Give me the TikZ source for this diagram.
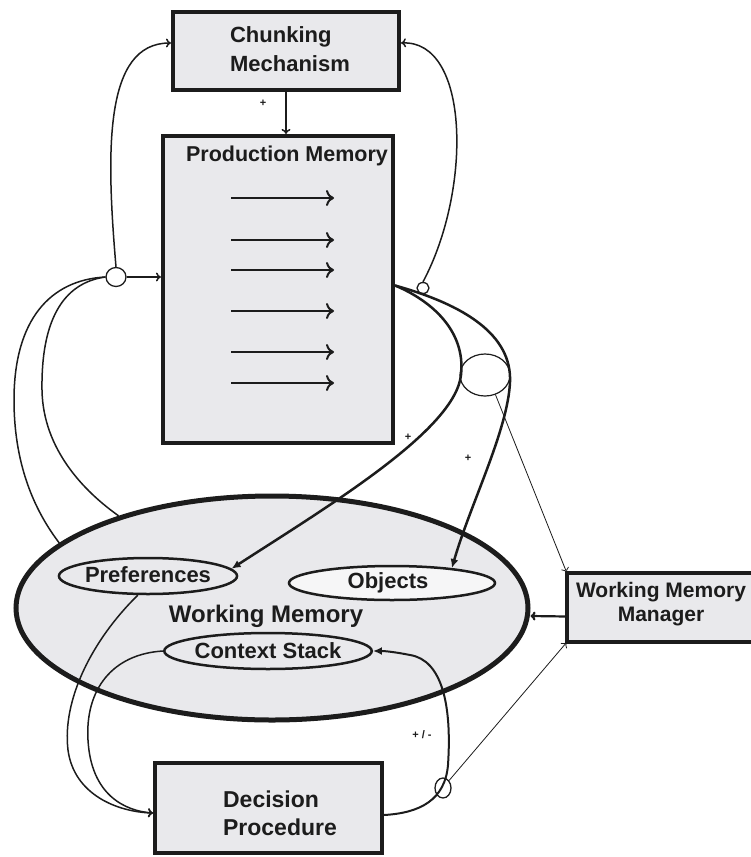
\documentclass[tikz,border=0pt]{standalone}
\usepackage{fontspec}
\setmainfont{Liberation Sans}
\usetikzlibrary{arrows.meta,shapes.geometric}
\definecolor{panel}{HTML}{E9E9EC}
\definecolor{ink}{HTML}{1C1C1C}

\begin{document}
\begin{tikzpicture}[x=1pt,y=-1pt,
  box/.style={draw=ink, line width=4pt, fill=panel, inner sep=0pt},
  lbl/.style={text=ink, inner sep=0pt, font=\bfseries\fontsize{22pt}{29pt}\selectfont},
  oval/.style={draw=ink, ellipse, line width=2.5pt, fill=panel, inner sep=0pt, text=ink,
               font=\bfseries\fontsize{22pt}{26pt}\selectfont},
  tap/.style={draw=ink, ellipse, line width=1.3pt, fill=white, inner sep=0pt},
  conn/.style={draw=ink, line width=1.5pt, -{To[length=5pt,width=9pt]}},
  thinconn/.style={draw=ink, line width=0.8pt, -{To[length=5pt,width=8pt]}},
  heavy/.style={draw=ink, line width=2.5pt, -{Latex[length=9pt,width=8pt]}},
  plain/.style={draw=ink, line width=1.5pt},
  sign/.style={text=ink, inner sep=0pt, font=\bfseries\fontsize{11pt}{11pt}\selectfont},
  rulearrow/.style={draw=ink, line width=2pt, -{To[length=8pt,width=16pt]}}
]
\useasboundingbox (0,0) rectangle (751,857);

% --- boxes -------------------------------------------------------------
\node[box, minimum width=226, minimum height=78] (chunk) at (286,51) {};
\node[lbl, align=left] (chunktext) at (290,49.5) {Chunking\\Mechanism};

\node[box, minimum width=230, minimum height=307] (prod) at (278,289.5) {};
\node[lbl, font=\bfseries\fontsize{21.5pt}{26pt}\selectfont] (prodtext) at (287,156) {Production Memory};
\foreach \yy in {198,240,270,311,352,383}
  \draw[rulearrow] (231,\yy) -- (334,\yy);

% working memory manager: open on the right, running off the edge
\node[fill=panel, draw=none, minimum width=184, minimum height=69, inner sep=0pt] (wmm) at (659,607.5) {};
\draw[ink, line width=4pt] (wmm.north east) -- (wmm.north west) -- (wmm.south west) -- (wmm.south east);
\node[lbl, align=center, font=\bfseries\fontsize{21pt}{24pt}\selectfont] (wmmtext) at (661,604.5) {Working Memory\\Manager};

\node[box, minimum width=227, minimum height=90] (dec) at (268.5,808) {};
\node[lbl, align=left, font=\bfseries\fontsize{23pt}{28pt}\selectfont] (dectext) at (280,813) {Decision\\Procedure};

% --- working memory ----------------------------------------------------
\node[draw=ink, ellipse, line width=5pt, fill=panel, minimum width=512, minimum height=224, inner sep=0pt] (wm) at (272,608) {};
\node[lbl, font=\bfseries\fontsize{24pt}{28pt}\selectfont] (wmtext) at (266,616) {Working Memory};
\node[oval, minimum width=164, minimum height=36] (prefs) at (148,576) {\raisebox{2pt}{Preferences}};
\node[oval, minimum width=206, minimum height=34, fill=white!60!panel] (objects) at (392,583) {\hspace*{-8pt}Objects};
\node[oval, minimum width=202, minimum height=36] (ctx) at (268,651) {\raisebox{1pt}{Context Stack}};

% --- tap points ----------------------------------------------------------
\node[tap, minimum width=20, minimum height=19] (lc) at (116,277) {};
\node[tap, minimum width=12, minimum height=11] (rc) at (423,288) {};
\node[draw=ink, ellipse, line width=1.2pt, minimum width=50, minimum height=42, inner sep=0pt] (bc) at (485,375) {};
\node[tap, minimum width=16, minimum height=20] (dc) at (443,788) {};

% --- connectors ----------------------------------------------------------
\draw[conn] (chunk.south) -- (chunk.south |- prod.north);
\node[sign] (s1) at (263,103) {+};

% left: working memory feeds the match point
\draw[conn] (lc.east) -- (lc.east -| prod.west);
\draw[conn] (lc.north) .. controls (106,150) and (104,43) .. ([yshift=8pt]chunk.west);
\draw[plain] (lc.west) .. controls (50,280) and (14,320) .. (14,400)
             .. controls (14,470) and (38,515) .. (wm.163);
\draw[plain] (lc.west) .. controls (62,283) and (41,322) .. (42,390)
             .. controls (43,450) and (85,492) .. (wm.149);

% right: production firing
\draw[conn] (rc.north) .. controls (472,190) and (470,40) .. ([yshift=8pt]chunk.east);
\coordinate (pout) at ([yshift=4pt]prod.east);
\draw[heavy] (pout) .. controls (430,300) and (466,330) .. (461,375)
             .. controls (455,430) and (330,505) .. (prefs.5);
\draw[heavy] (pout) .. controls (465,305) and (512,335) .. (510,382)
             .. controls (508,430) and (470,505) .. (objects.14);
\node[sign] (s2) at (408,437) {+};
\node[sign] (s3) at (468,458) {+};
\draw[thinconn] (bc.-62) -- (wmm.north west);

\draw[conn, line width=2.2pt] ([yshift=-9pt]wmm.west) -- ([yshift=-8pt]wm.east);

% decision cycle
\draw[conn, line width=2pt, -{Latex[length=9pt,width=8pt]}] ([yshift=-7pt]dec.east) .. controls (420,813) and (445,800) .. (448,765)
             .. controls (452,705) and (442,660) .. (410,655)
             .. controls (395,652) and (385,651) .. (ctx.east);
\node[sign] (s4) at (422,735) {+ / -};
\draw[thinconn] (dc.north east) -- (wmm.south west);
\draw[conn] (prefs.-118) .. controls (92,640) and (62,700) .. (68,750)
            .. controls (74,795) and (118,812) .. ([yshift=-5pt]dec.west);
\draw[conn] (ctx.west) .. controls (112,654) and (85,690) .. (88,740)
            .. controls (91,795) and (125,811) .. ([yshift=-5pt]dec.west);
\end{tikzpicture}
\end{document}
